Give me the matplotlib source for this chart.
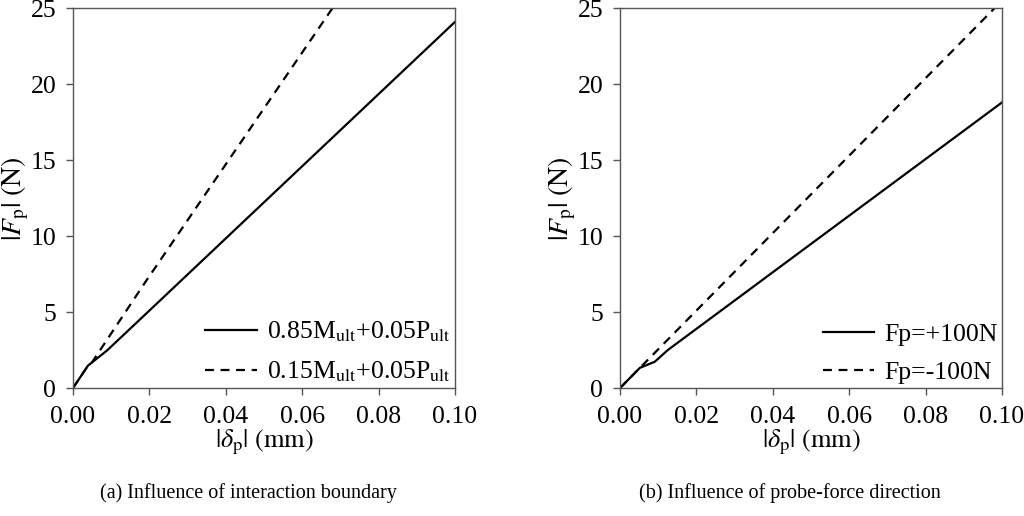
import numpy as np
import matplotlib
matplotlib.use('Agg')
import matplotlib.pyplot as plt

plt.rcParams['font.family'] = ['Liberation Serif', 'DejaVu Serif']
plt.rcParams['mathtext.fontset'] = 'stix'

# (a) influence of interaction boundary
a_solid_x = [0.0, 0.0039, 0.0089, 0.020, 0.100]
a_solid_y = [0.0, 1.47, 2.47, 5.1, 24.1]
a_dash_x = [0.0, 0.0039, 0.0050, 0.0190, 0.0690]
a_dash_y = [0.0, 1.47, 1.70, 7.0, 25.4]
a_labels = [r'0.85M$_{\rm ult}$+0.05P$_{\rm ult}$', r'0.15M$_{\rm ult}$+0.05P$_{\rm ult}$']

# (b) influence of probe-force direction
b_solid_x = [0.0, 0.0052, 0.0091, 0.0125, 0.100]
b_solid_y = [0.0, 1.33, 1.73, 2.5, 18.8]
b_dash_x = [0.0, 0.100]
b_dash_y = [0.0, 25.5]
b_labels = ['Fp=+100N', 'Fp=-100N']

captions = ['(a) Influence of interaction boundary', '(b) Influence of probe-force direction']

fig = plt.figure(figsize=(10.24, 5.16), dpi=100)
ax1 = fig.add_axes([0.0713, 0.248, 0.373, 0.736])
ax2 = fig.add_axes([0.6055, 0.248, 0.373, 0.736])

data = [(a_solid_x, a_solid_y, a_dash_x, a_dash_y, a_labels),
        (b_solid_x, b_solid_y, b_dash_x, b_dash_y, b_labels)]

for ax, (sx, sy, dx, dy, labs) in zip([ax1, ax2], data):
    ax.plot(sx, sy, '-', color='black', lw=1.6, label=labs[0])
    ax.plot(dx, dy, '--', color='black', lw=1.6, dashes=(4, 3), label=labs[1])
    ax.set_xlim(0, 0.1)
    ax.set_ylim(0, 25)
    ax.set_xticks([0, 0.02, 0.04, 0.06, 0.08, 0.10])
    ax.set_xticklabels(['0.00', '0.02', '0.04', '0.06', '0.08', '0.10'])
    ax.set_yticks([0, 5, 10, 15, 20, 25])
    for s in ax.spines.values():
        s.set_color('#555555')
        s.set_linewidth(1.0)
    ax.tick_params(direction='out', length=5, width=1.0, color='#555555',
                   labelsize=18.5)
    ax.tick_params(axis='x', pad=8)
    ax.tick_params(axis='y', pad=7)
    ax.set_xlabel(r'$|\delta_{\rm p}|\ ({\rm mm})$', fontsize=19, labelpad=0)
    ax.set_ylabel(r'$|F_{\rm p}|\ ({\rm N})$', fontsize=20)
    ax.yaxis.set_label_coords(-0.11, 0.5)
    ax.legend(loc='lower right', bbox_to_anchor=(1.0, 0.0), frameon=False,
              fontsize=18.5, handlelength=2.0, handletextpad=0.4,
              labelspacing=0.6, borderaxespad=0.0, borderpad=0.15)

fig.text(0.243, 0.045, captions[0], ha='center', va='center', fontsize=14.5)
fig.text(0.771, 0.045, captions[1], ha='center', va='center', fontsize=14.5)

fig.savefig('out.png', dpi=100)
